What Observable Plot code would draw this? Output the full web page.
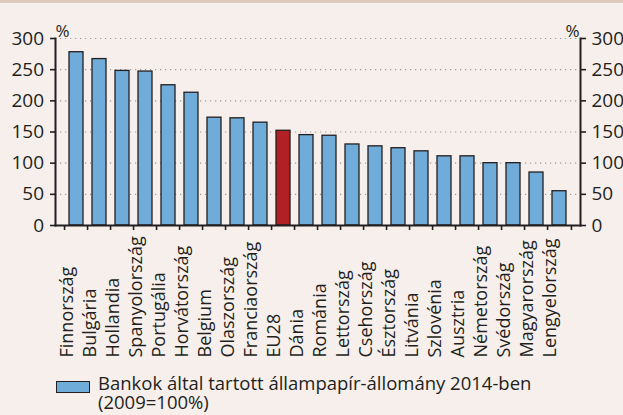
<!DOCTYPE html>
<html><head><meta charset="utf-8">
<script src="https://cdn.jsdelivr.net/npm/d3@7"></script>
<script src="https://cdn.jsdelivr.net/npm/@observablehq/plot@0.6"></script>
<style>
html,body{margin:0;padding:0;background:#f6efec;}
#wrap{position:relative;width:623px;height:415px;overflow:hidden;background:#f6efec;font-family:"Open Sans",sans-serif;color:#231f20;}
#topbar{position:absolute;left:0;top:0;width:623px;height:3px;background:#dccbbd;}
#chart{position:absolute;left:0;top:0;}
#legend{position:absolute;left:56px;top:373px;font-size:18.5px;line-height:19px;white-space:nowrap;}
#legend .sw{position:absolute;left:0;top:8px;width:31.6px;height:9.6px;background:#70acd9;border:1.2px solid #231f20;}
#legend .txt{margin-left:42px;}
</style>
</head><body>
<div id="wrap"><div id="chart"></div><div id="topbar"></div><div id="legend"></div></div>
<script>
const countries = ["Finnország","Bulgária","Hollandia","Spanyolország","Portugália","Horvátország","Belgium","Olaszország","Franciaország","EU28","Dánia","Románia","Lettország","Csehország","Észtország","Litvánia","Szlovénia","Ausztria","Németország","Svédország","Magyarország","Lengyelország"];
const values = [278,267,248,247,225,213,173,172,165,152,145,144,130,127,124,119,111,111,100,100,85,55];
const highlighted = ["EU28"];
const yTicks = [0,50,100,150,200,250,300];
const unitLabel = "%";
const legendLines = ["Bankok által tartott állampapír-állomány 2014-ben","(2009=100%)"];

const data = countries.map((c,i)=>({country:c, value:values[i], hl:highlighted.includes(c)}));
const W = 623, H = 368, mL = 55, mR = 43, mT = 38, mB = 143;
const step = (W - mL - mR) / countries.length;
const ink = "#231f20";
const font = "Open Sans";

const chart = Plot.plot({
  width: W, height: H, marginLeft: mL, marginRight: mR, marginTop: mT, marginBottom: mB,
  style: {background: "transparent", fontFamily: font, fontSize: "16px", color: ink},
  x: {domain: countries, paddingInner: 0.4, paddingOuter: 0.2, axis: null},
  y: {domain: [0, 300], axis: null},
  marks: [
    Plot.ruleY(yTicks.filter(d => d > 0), {stroke: "#9d9a98", strokeWidth: 1.2, strokeDasharray: "1.2,3.8"}),
    Plot.barY(data, {x: "country", y: "value", fill: d => d.hl ? "#b02126" : "#70acd9", stroke: ink, strokeWidth: 1.3}),
    Plot.frame({anchor: "bottom", stroke: ink, strokeWidth: 2}),
    Plot.frame({anchor: "left", stroke: ink, strokeWidth: 2}),
    Plot.frame({anchor: "right", stroke: ink, strokeWidth: 2}),
    Plot.axisX({ticks: countries, tickSize: 5, dx: -step/2, tickFormat: () => "", label: null, stroke: ink, strokeWidth: 1.6}),
    Plot.axisX({ticks: [countries[countries.length-1]], tickSize: 5, dx: step/2, tickFormat: () => "", label: null, stroke: ink, strokeWidth: 1.6}),
    Plot.axisY({anchor: "left", ticks: yTicks, tickSize: 5, tickPadding: 6.5, label: null, fontSize: 19, fill: ink, stroke: ink, strokeWidth: 1.6}),
    Plot.axisY({anchor: "right", ticks: yTicks, tickSize: 5, tickPadding: 6, label: null, fontSize: 19, fill: ink, stroke: ink, strokeWidth: 1.6}),
    Plot.text([unitLabel], {frameAnchor: "top-left", textAnchor: "start", dx: 0, dy: -14, fontSize: 17, fill: ink}),
    Plot.text([unitLabel], {frameAnchor: "top-right", textAnchor: "end", dx: -1, dy: -14, fontSize: 17, fill: ink}),
    Plot.text(countries, {x: d => d, frameAnchor: "bottom", dx: -3.5, dy: 132, rotate: -90, textAnchor: "start", fontSize: 18, fill: ink})
  ]
});
document.getElementById("chart").appendChild(chart);

const lg = document.getElementById("legend");
const sw = document.createElement("div"); sw.className = "sw"; lg.appendChild(sw);
const tx = document.createElement("div"); tx.className = "txt";
legendLines.forEach(l => { const d = document.createElement("div"); d.textContent = l; tx.appendChild(d); });
lg.appendChild(tx);
</script>
</body></html>
